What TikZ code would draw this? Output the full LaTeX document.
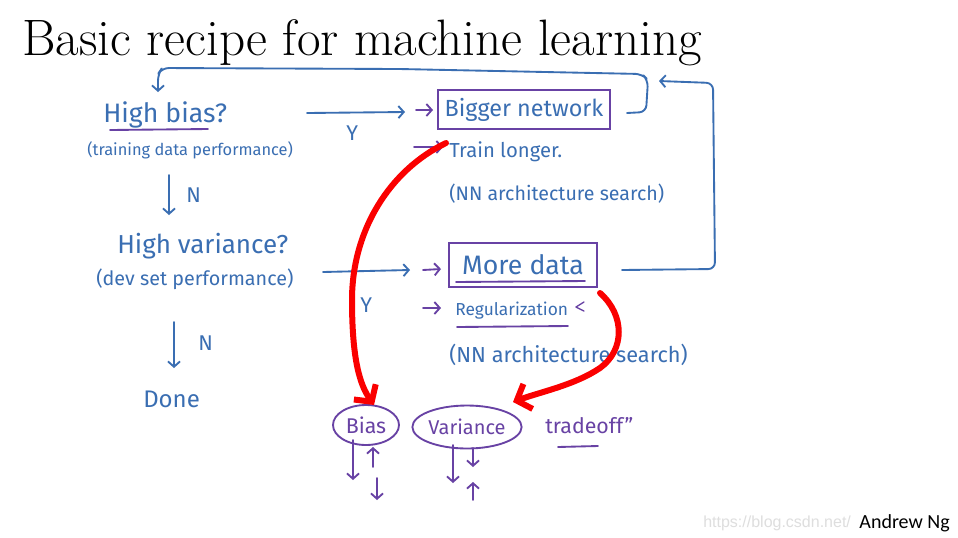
\documentclass[tikz,border=0pt]{standalone}
\usepackage{fontspec}
\newfontfamily\handfont{Fira Sans}
\newfontfamily\calibfont{Carlito}
\newfontfamily\wmfont{Liberation Sans}
\usetikzlibrary{arrows.meta,shapes.geometric}
\definecolor{hblue}{RGB}{58,110,178}
\definecolor{hpurple}{RGB}{104,66,164}
\definecolor{hred}{RGB}{250,0,0}
\tikzset{
  hw/.style={text=hblue, inner sep=0pt, anchor=base west, font=\handfont\fontsize{#1}{#1}\selectfont},
  pw/.style={text=hpurple, inner sep=0pt, anchor=base west, font=\handfont\fontsize{#1}{#1}\selectfont},
  bline/.style={draw=hblue, line width=1.4pt, line cap=round, line join=round},
  pline/.style={draw=hpurple, line width=1.4pt, line cap=round, line join=round},
  rline/.style={draw=hred, line width=4.5pt, line cap=round},
  btip/.style={-{Straight Barb[length=4pt,width=9pt]}},
  rtip/.style={-{Straight Barb[length=9pt,width=20pt]}},
  pbox/.style={draw=hpurple, line width=1.4pt, inner sep=0pt, text=hblue},
  pell/.style={ellipse, draw=hpurple, line width=1.4pt, inner sep=0pt, text=hpurple},
}
\begin{document}
\begin{tikzpicture}[x=0.75pt,y=-0.75pt]
\useasboundingbox[fill=white] (0,0) rectangle (958,537);

% title
\node[anchor=base west, inner sep=0pt, font=\fontsize{38.4}{44}\selectfont] (title) at (22,55) {Basic recipe for machine learning};

% left column
\node[hw=20] (hb) at (103,122) {High bias?};
\node[hw=12.3] (tdp) at (87,155) {(training data performance)};
\node[hw=16] (n1) at (186,202) {N};
\node[hw=19.5] (hv) at (117,253) {High variance?};
\node[hw=14.8] (dsp) at (96,285) {(dev set performance)};
\node[hw=16] (n2) at (198,350) {N};
\node[hw=18] (done) at (143,407) {Done};
\node[hw=16] (y1) at (346,140) {Y};
\node[hw=16] (y2) at (360,312) {Y};

% right column
\node[pbox, font=\handfont\fontsize{17.5}{17.5}\selectfont, minimum width=129pt, minimum height=29.25pt] (bn) at (524,109.5) {Bigger network};
\node[hw=15.2] (tl) at (449,157) {Train longer.};
\node[hw=14.7] (nas1) at (449,200) {(NN architecture search)};
\node[pbox, font=\handfont\fontsize{20}{20}\selectfont, minimum width=111pt, minimum height=33pt] (md) at (523,265) {More data};
\node[hw=13] (reg) at (455,315) {Regularization};
\node[hw=16.3] (nas2) at (449,362) {(NN architecture search)};

% bottom
\node[pell, font=\handfont\fontsize{16}{16}\selectfont, minimum width=49.5pt, minimum height=30pt] (bias) at (366,425) {Bias};
\node[pell, font=\handfont\fontsize{15}{15}\selectfont, minimum width=70.5pt, minimum height=32.25pt] (var) at (467,427) {Variance};
\node[pw=16] (trade) at (545,433) {tradeoff”};
\node[anchor=base west, inner sep=0pt, text=black!13, font=\wmfont\fontsize{12}{12}\selectfont] (wm) at (703,527) {https://blog.csdn.net/};
\node[anchor=base east, inner sep=0pt, font=\calibfont\fontsize{15}{15}\selectfont] (ng) at (950,528) {Andrew Ng};

% coordinates for free ends
\coordinate (a1s) at (307,113);
\coordinate (a1e) at (405,112);
\coordinate (a2s) at (323,272);
\coordinate (a2e) at (410,270);
\coordinate (l1s) at (627,113);
\coordinate (l1e) at (158,92);
\coordinate (l2s) at (622,270);
\coordinate (l2e) at (659,81);

% blue arrows
\draw[bline, btip] (a1s) -- (a1e);
\draw[bline, btip] (a2s) -- (a2e);
\draw[bline, btip] (169,175) -- (169,215);
\draw[bline, btip] (174,322) -- (174,368);
\draw[bline, btip, rounded corners=5pt] (l1s) -- (646,112) -- (648,80) -- (642,74) -- (400,69) -- (162,68) -- (158,74) -- (l1e);
\draw[bline, btip, rounded corners=5pt] (l2s) -- (715,269) -- (713,83) -- (l2e);

% purple marks
\draw[pline, btip] (416,110) -- (433,110);
\draw[pline, btip] (414,147) -- (443,147);
\draw[pline, btip] (423,270) -- (441,269);
\draw[pline, btip] (423,308) -- (441,308);
\draw[pline] (110,130) -- (208,129);
\draw[pline] (457,327) -- (568,326);
\draw[pline] (456,282) -- (585,281);
\draw[pline, line width=1pt] (584,302) -- (576,307) -- (584,311);
\draw[pline] (558,447) -- (598,446);

% bias / variance arrows
\draw[pline, btip] (353,440) -- (353,480);
\draw[pline, btip] (373,467) -- (373,447);
\draw[pline, btip] (377,478) -- (377,500);
\draw[pline, btip] (453,445) -- (453,483);
\draw[pline, btip] (473,448) -- (473,467);
\draw[pline, btip] (473,500) -- (473,482);

% red arrows
\coordinate (r1s) at (446,143);
\coordinate (r1e) at (374,405);
\coordinate (r2s) at (600,293);
\coordinate (r2e) at (513,402);
\draw[rline, rtip] (r1s) .. controls (390,170) and (352,230) .. (352,300) .. controls (352,360) and (360,385) .. (r1e);
\draw[rline, rtip] (r2s) .. controls (625,315) and (625,350) .. (600,368) .. controls (575,385) and (540,392) .. (r2e);
\end{tikzpicture}
\end{document}
